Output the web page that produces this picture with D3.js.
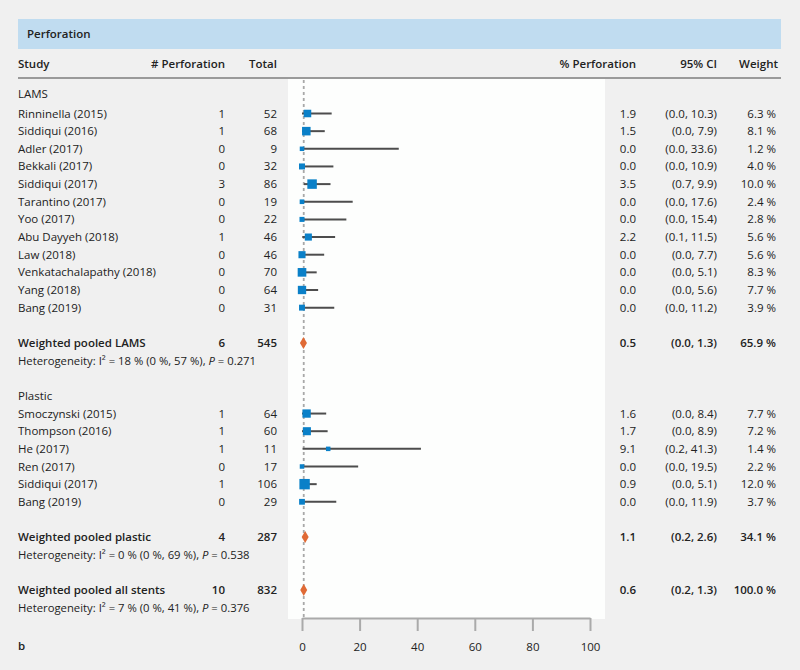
<!DOCTYPE html>
<html><head><meta charset="utf-8">
<script src="https://cdn.jsdelivr.net/npm/d3@7"></script>
<style>
body{margin:0;background:#f0f0f0;}
svg{display:block;font-family:'Open Sans',sans-serif;}
</style>
</head><body>
<svg id="c" width="800" height="670"></svg>
<script>
// ---- data ----
const lamsStudies = ["Rinninella (2015)","Siddiqui (2016)","Adler (2017)","Bekkali (2017)","Siddiqui (2017)","Tarantino (2017)","Yoo (2017)","Abu Dayyeh (2018)","Law (2018)","Venkatachalapathy (2018)","Yang (2018)","Bang (2019)"];
const lamsEvents  = [1,1,0,0,3,0,0,1,0,0,0,0];
const lamsTotals  = [52,68,9,32,86,19,22,46,46,70,64,31];
const lamsPct     = [1.9,1.5,0.0,0.0,3.5,0.0,0.0,2.2,0.0,0.0,0.0,0.0];
const lamsLo      = [0.0,0.0,0.0,0.0,0.7,0.0,0.0,0.1,0.0,0.0,0.0,0.0];
const lamsHi      = [10.3,7.9,33.6,10.9,9.9,17.6,15.4,11.5,7.7,5.1,5.6,11.2];
const lamsWeight  = [6.3,8.1,1.2,4.0,10.0,2.4,2.8,5.6,5.6,8.3,7.7,3.9];

const plasticStudies = ["Smoczynski (2015)","Thompson (2016)","He (2017)","Ren (2017)","Siddiqui (2017)","Bang (2019)"];
const plasticEvents  = [1,1,1,0,1,0];
const plasticTotals  = [64,60,11,17,106,29];
const plasticPct     = [1.6,1.7,9.1,0.0,0.9,0.0];
const plasticLo      = [0.0,0.0,0.2,0.0,0.0,0.0];
const plasticHi      = [8.4,8.9,41.3,19.5,5.1,11.9];
const plasticWeight  = [7.7,7.2,1.4,2.2,12.0,3.7];

const pooledLabels = ["Weighted pooled LAMS","Weighted pooled plastic","Weighted pooled all stents"];
const pooledEvents = [6,4,10];
const pooledTotals = [545,287,832];
const pooledPct    = [0.5,1.1,0.6];
const pooledLo     = [0.0,0.2,0.2];
const pooledHi     = [1.3,2.6,1.3];
const pooledWeight = [65.9,34.1,100.0];
const hetI2   = ["18 %","0 %","7 %"];
const hetCI   = ["(0 %, 57 %)","(0 %, 69 %)","(0 %, 41 %)"];
const hetP    = ["0.271","0.538","0.376"];

const groupLabels = ["LAMS","Plastic"];
const axisTicks = [0,20,40,60,80,100];
const refLine = 0.6;

// ---- layout ----
const svg = d3.select("#c");
const ink = "#222";
const FS = 11.5;
const BOLD = 600;
const x = d3.scaleLinear().domain([0,100]).range([302,590]);
const y = d3.scaleLinear().domain([0,28]).range([113.5,607.7]);
const fmt1 = d3.format(".1f");

const rows = [];
rows.push({type:"group",label:groupLabels[0],row:-1.1});
lamsStudies.forEach((s,i)=>rows.push({type:"study",label:s,ev:lamsEvents[i],tot:lamsTotals[i],pct:lamsPct[i],lo:lamsLo[i],hi:lamsHi[i],w:lamsWeight[i],row:i}));
rows.push({type:"pooled",k:0,row:13});
rows.push({type:"het",k:0,row:14});
rows.push({type:"group",label:groupLabels[1],row:16});
plasticStudies.forEach((s,i)=>rows.push({type:"study",label:s,ev:plasticEvents[i],tot:plasticTotals[i],pct:plasticPct[i],lo:plasticLo[i],hi:plasticHi[i],w:plasticWeight[i],row:17+i}));
rows.push({type:"pooled",k:1,row:24});
rows.push({type:"het",k:1,row:25});
rows.push({type:"pooled",k:2,row:27});
rows.push({type:"het",k:2,row:28});

svg.append("rect").attr("width",800).attr("height",670).attr("fill","#f0f0f0");
svg.append("rect").attr("x",18).attr("y",19).attr("width",763).attr("height",30).attr("fill","#c0dcf0");
svg.append("text").attr("x",27).attr("y",34).attr("dy","0.35em").attr("font-size",FS).attr("font-weight",BOLD).attr("fill",ink).text("Perforation");

svg.append("rect").attr("x",288).attr("y",78).attr("width",317).attr("height",541).attr("fill","#fdfefd");

const hdr = svg.append("g").attr("font-size",FS).attr("font-weight",BOLD).attr("fill",ink);
const hy = 64;
hdr.append("text").attr("x",18).attr("y",hy).attr("dy","0.35em").text("Study");
hdr.append("text").attr("x",225).attr("y",hy).attr("dy","0.35em").attr("text-anchor","end").text("# Perforation");
hdr.append("text").attr("x",277).attr("y",hy).attr("dy","0.35em").attr("text-anchor","end").text("Total");
hdr.append("text").attr("x",636).attr("y",hy).attr("dy","0.35em").attr("text-anchor","end").text("% Perforation");
hdr.append("text").attr("x",717).attr("y",hy).attr("dy","0.35em").attr("text-anchor","end").text("95% CI");
hdr.append("text").attr("x",778).attr("y",hy).attr("dy","0.35em").attr("text-anchor","end").text("Weight");
svg.append("line").attr("x1",18).attr("x2",781).attr("y1",78).attr("y2",78).attr("stroke","#9a9a9a").attr("stroke-width",2);

svg.append("line").attr("x1",x(refLine)).attr("x2",x(refLine)).attr("y1",80).attr("y2",618)
  .attr("stroke","#a8a8a8").attr("stroke-width",1.8).attr("stroke-dasharray","3,3");

const axis = svg.append("g").attr("transform","translate(0,618)")
  .call(d3.axisBottom(x).tickValues(axisTicks).tickSize(13).tickSizeOuter(0).tickPadding(12).tickFormat(d3.format("d")));
axis.select(".domain").attr("stroke","#aaa").attr("stroke-width",2);
axis.selectAll(".tick line").attr("stroke","#aaa").attr("stroke-width",2);
axis.selectAll(".tick text").attr("fill",ink).attr("font-size",FS).attr("font-family","'Open Sans',sans-serif");

svg.append("text").attr("x",18).attr("y",646).attr("dy","0.35em").attr("font-size",FS).attr("font-weight",BOLD).attr("fill",ink).text("b");

const g = svg.append("g").attr("font-size",FS).attr("fill",ink);
rows.forEach(r=>{
  const yy = y(r.row);
  if(r.type==="group"){
    g.append("text").attr("x",18).attr("y",yy).attr("dy","0.35em").text(r.label);
  } else if(r.type==="study"){
    g.append("text").attr("x",18).attr("y",yy).attr("dy","0.35em").text(r.label);
    g.append("text").attr("x",225).attr("y",yy).attr("dy","0.35em").attr("text-anchor","end").text(r.ev);
    g.append("text").attr("x",277).attr("y",yy).attr("dy","0.35em").attr("text-anchor","end").text(r.tot);
    g.append("text").attr("x",636).attr("y",yy).attr("dy","0.35em").attr("text-anchor","end").text(fmt1(r.pct));
    g.append("text").attr("x",717).attr("y",yy).attr("dy","0.35em").attr("text-anchor","end").text(`(${fmt1(r.lo)}, ${fmt1(r.hi)})`);
    g.append("text").attr("x",776).attr("y",yy).attr("dy","0.35em").attr("text-anchor","end").text(`${fmt1(r.w)} %`);
    svg.append("line").attr("x1",x(r.lo)).attr("x2",x(r.hi)).attr("y1",yy).attr("y2",yy).attr("stroke","#4d4d4d").attr("stroke-width",2);
    const s = Math.max(4.5, 3*Math.sqrt(r.w));
    svg.append("rect").attr("x",x(r.pct)-s/2).attr("y",yy-s/2).attr("width",s).attr("height",s).attr("fill","#0a80c8");
  } else if(r.type==="pooled"){
    const k=r.k;
    const b = g.append("g").attr("font-weight",BOLD);
    b.append("text").attr("x",18).attr("y",yy).attr("dy","0.35em").text(pooledLabels[k]);
    b.append("text").attr("x",225).attr("y",yy).attr("dy","0.35em").attr("text-anchor","end").text(pooledEvents[k]);
    b.append("text").attr("x",277).attr("y",yy).attr("dy","0.35em").attr("text-anchor","end").text(pooledTotals[k]);
    b.append("text").attr("x",636).attr("y",yy).attr("dy","0.35em").attr("text-anchor","end").text(fmt1(pooledPct[k]));
    b.append("text").attr("x",717).attr("y",yy).attr("dy","0.35em").attr("text-anchor","end").text(`(${fmt1(pooledLo[k])}, ${fmt1(pooledHi[k])})`);
    b.append("text").attr("x",776).attr("y",yy).attr("dy","0.35em").attr("text-anchor","end").text(`${fmt1(pooledWeight[k])} %`);
    const c = x(pooledPct[k]);
    let l = x(pooledLo[k]), h = x(pooledHi[k]);
    const minW = 7;
    if(h-l<minW){ l = c-minW/2; h = c+minW/2; }
    const hh = 6;
    svg.append("path").attr("d",`M${l},${yy}L${c},${yy-hh}L${h},${yy}L${c},${yy+hh}Z`).attr("fill","#e06a35");
  } else if(r.type==="het"){
    const k=r.k;
    const t = g.append("text").attr("x",18).attr("y",yy).attr("dy","0.35em").attr("font-size",11.3);
    t.append("tspan").text(`Heterogeneity: I\u00B2 = ${hetI2[k]} ${hetCI[k]}, `);
    t.append("tspan").attr("font-style","italic").text("P");
    t.append("tspan").text(` = ${hetP[k]}`);
  }
});
</script>
</body></html>
